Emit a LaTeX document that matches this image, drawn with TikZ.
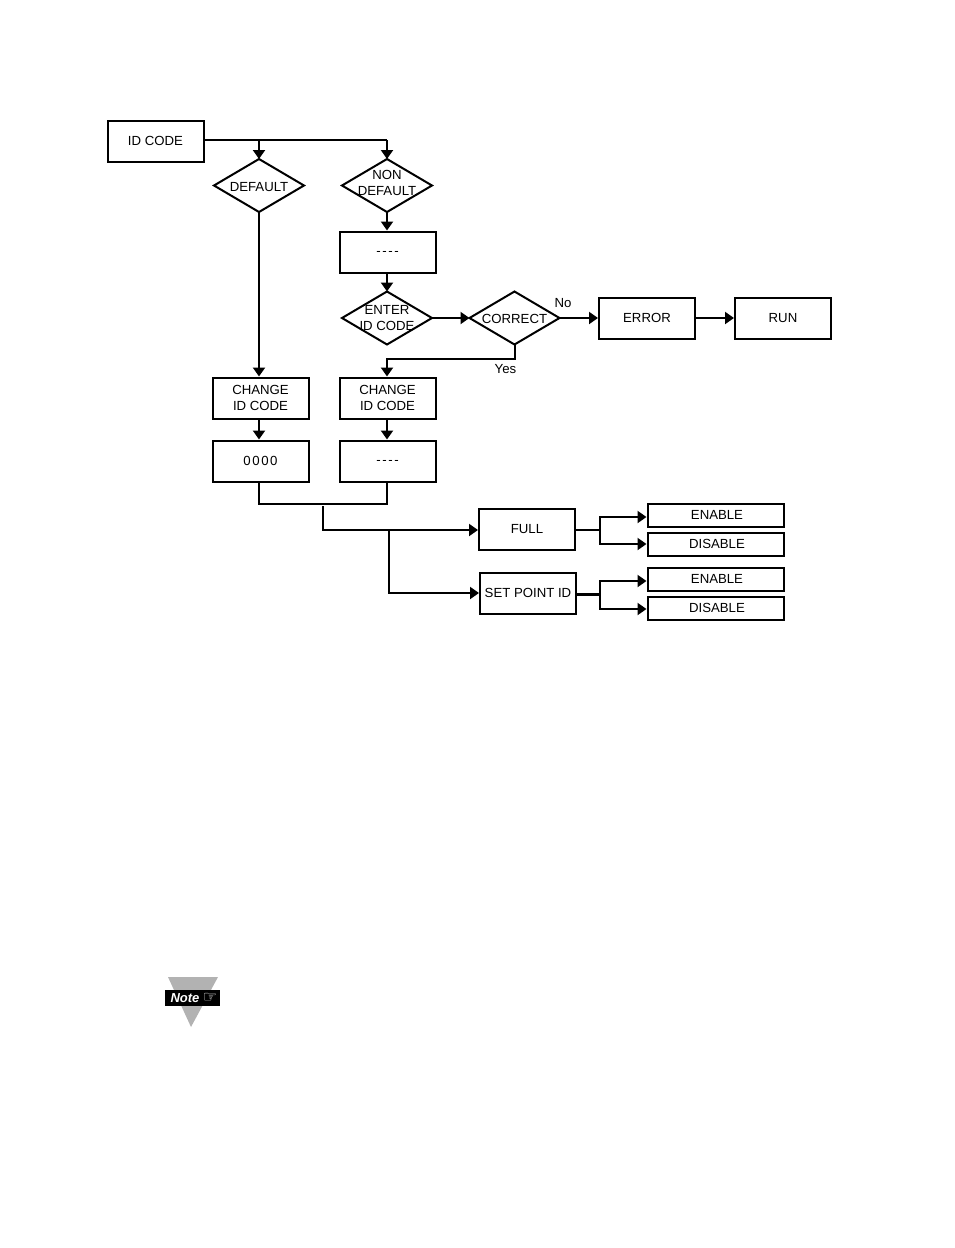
\documentclass[tikz,border=0pt]{standalone}
\usepackage{fontspec}
\setmainfont{Liberation Sans}
\newfontfamily\handfont{DejaVu Sans}
\usetikzlibrary{arrows.meta,positioning,shapes.geometric,calc}
\definecolor{notegray}{RGB}{178,178,178}
\newcommand{\overtext}[2]{\smash{\raisebox{-#1pt}{\makebox[0pt]{\begin{tabular}{@{}c@{}}#2\end{tabular}}}}}
\newcommand{\dashcode}{\raisebox{-2pt}{-\kern1.6pt-\kern1.6pt-\kern1.6pt-}}
\tikzset{
  flowbox/.style={draw, line width=2pt, minimum width=96pt, minimum height=41pt, inner sep=0pt, align=center, text depth=-3pt, font=\fontsize{13.2}{16}\selectfont},
  optbox/.style={draw, line width=2pt, minimum width=136pt, minimum height=23pt, inner sep=0pt, text depth=-3pt, execute at begin node=\hspace*{3pt}, font=\fontsize{13.2}{16}\selectfont},
  decision/.style={draw, diamond, line width=2pt, minimum width=90pt, minimum height=53pt, aspect=1.7, inner sep=0pt, outer sep=0pt, font=\fontsize{13.2}{16}\selectfont},
  flowtext/.style={inner sep=0pt, font=\fontsize{13.2}{16}\selectfont},
  wire/.style={line width=2pt},
  arrowwire/.style={line width=2pt, -{Triangle[length=9pt,width=12pt]}}
}

\begin{document}
\begin{tikzpicture}[x=1pt,y=-1pt]
  \useasboundingbox (0,0) rectangle (954,1248);

  % Top row
  \node[flowbox] (idcode) at (155.5,141) {ID CODE};
  \node[decision] (default) at (259,185.5) {\overtext{5.5}{DEFAULT}};
  \node[decision] (nondefault) at (387,185.5) {\overtext{2}{NON\\DEFAULT}};
  \coordinate (topsplit) at (259,140);
  \coordinate (topbend) at (387,140);

  % Code entry
  \node[flowbox] (blankcode) at (387.5,252) {\dashcode};
  \node[decision] (entercode) at (387,318) {\overtext{4}{ENTER\\ID CODE}};
  \node[decision] (correct) at (514.5,318) {\overtext{5}{CORRECT}};
  \node[flowbox] (error) at (647,318) {ERROR};
  \node[flowbox] (run) at (783,318) {RUN};
  \node[flowtext] (nolabel) at (563,303.5) {No};
  \node[flowtext] (yeslabel) at (505.5,369.5) {Yes};
  \coordinate (yesbend) at (387,359);

  % Change boxes
  \node[flowbox] (changeleft) at (260.5,398) {CHANGE\\ID CODE};
  \node[flowbox] (changeright) at (387.5,398) {CHANGE\\ID CODE};
  \node[flowbox] (zerocode) at (260.5,461) {0\kern1.6pt0\kern1.6pt0\kern1.6pt0};
  \node[flowbox] (newcode) at (387.5,461) {\dashcode};
  \coordinate (mergeleft) at (259,504);
  \coordinate (mergeright) at (387,504);
  \coordinate (splitstart) at (323,506);
  \coordinate (splitfull) at (389,530);

  % Full and set point
  \node[flowbox] (full) at (527,529) {FULL};
  \node[flowbox] (setpoint) at (528,593) {SET POINT ID};
  \node[optbox] (fullenable) at (715.5,515) {ENABLE};
  \node[optbox] (fulldisable) at (715.5,544) {DISABLE};
  \node[optbox] (setenable) at (715.5,579) {ENABLE};
  \node[optbox] (setdisable) at (715.5,608) {DISABLE};
  \coordinate (fullbranch) at (600,530);
  \coordinate (setbranch) at (600,594);

  % Connectors
  \draw[wire] (idcode.east |- topbend) -- (topbend);
  \draw[arrowwire] (topsplit) -- (default.north);
  \draw[arrowwire] (topbend) -- (nondefault.north);
  \draw[arrowwire] (default.south) -- (default.south |- changeleft.north);
  \draw[arrowwire] (nondefault.south) -- (nondefault.south |- blankcode.north);
  \draw[arrowwire] (blankcode.south -| entercode.north) -- (entercode.north);
  \draw[arrowwire] (entercode.east) -- (correct.west);
  \draw[arrowwire] (correct.east) -- (error.west);
  \draw[arrowwire] (error.east) -- (run.west);
  \draw[arrowwire] (correct.south) |- (yesbend) -- (yesbend |- changeright.north);
  \draw[arrowwire] (changeleft.south -| topsplit) -- (topsplit |- zerocode.north);
  \draw[arrowwire] (changeright.south -| topbend) -- (topbend |- newcode.north);
  \draw[wire] (mergeleft |- zerocode.south) -- (mergeleft) -- (mergeright) -- (mergeright |- newcode.south);
  \draw[arrowwire] (splitstart) |- ([yshift=-1pt]full.west);
  \draw[arrowwire] (splitfull) |- (setpoint.west);
  \draw[wire] (full.east |- fullbranch) -- (fullbranch);
  \draw[arrowwire] (fullbranch) |- ([yshift=-2pt]fullenable.west);
  \draw[arrowwire] (fullbranch) |- (fulldisable.west);
  \draw[wire, line width=3pt] (setpoint.east |- setbranch) -- (setbranch);
  \draw[arrowwire] (setbranch) |- ([yshift=-2pt]setenable.west);
  \draw[arrowwire] (setbranch) |- ([yshift=-1pt]setdisable.west);

  % Note mark
  \fill[notegray] (168,977) -- (218,977) -- (191,1027) -- cycle;
  \node[fill=black, minimum width=55pt, minimum height=16pt, inner sep=0pt] (notemark) at (192.5,998) {};
  \node[text=white, inner sep=0pt, font=\fontsize{13}{14}\selectfont\bfseries\itshape] (notetext) at (185,998.5) {Note};
  \node[text=white, inner sep=0pt, font=\fontsize{16}{16}\selectfont\handfont] (notehand) at (210,998) {☞};
\end{tikzpicture}
\end{document}
